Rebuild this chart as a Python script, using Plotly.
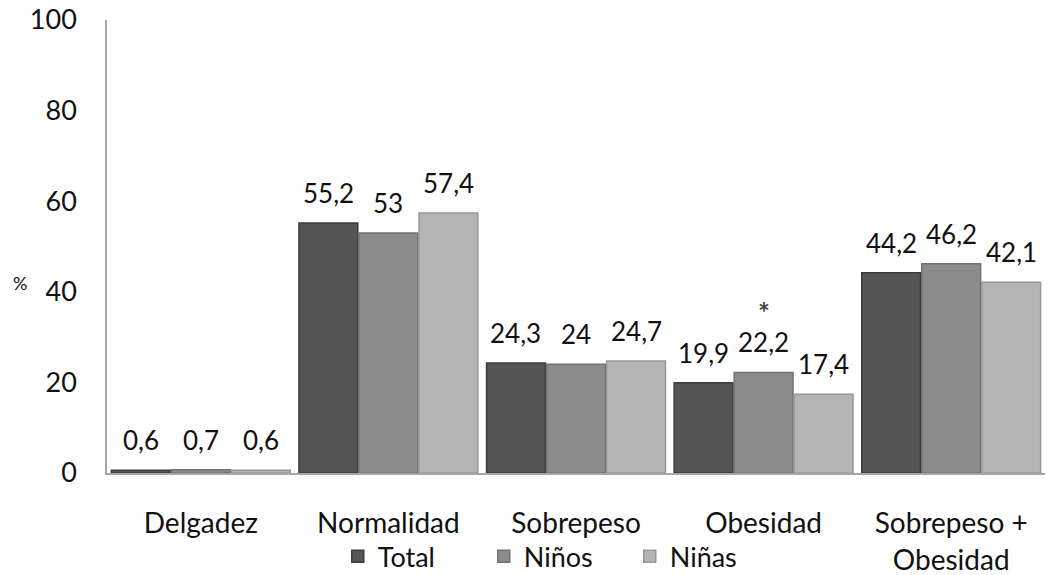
import plotly.graph_objects as go

categories = ["Delgadez", "Normalidad", "Sobrepeso", "Obesidad", "Sobrepeso +<br>Obesidad"]
total = [0.6, 55.2, 24.3, 19.9, 44.2]
ninos = [0.7, 53.0, 24.0, 22.2, 46.2]
ninas = [0.6, 57.4, 24.7, 17.4, 42.1]
series_names = ["Total", "Niños", "Niñas"]
y_ticks = [0, 20, 40, 60, 80, 100]

def fmt(v):
    return f"{v:g}".replace(".", ",")

colors = ["#555555", "#8c8c8c", "#b4b4b4"]
edges = ["#3c3c3c", "#727272", "#989898"]
FONT = "Lato, Open Sans, sans-serif"

W, H = 1047, 575
ML, MR, MT, MB = 107, 2, 20, 102
BARGAP, GROUPGAP = 0.04, 0.02

fig = go.Figure()
series = [total, ninos, ninas]
for name, vals, c, e in zip(series_names, series, colors, edges):
    fig.add_trace(go.Bar(
        x=categories, y=vals, name=name,
        marker=dict(color=c, line=dict(color=e, width=1.5)),
        cliponaxis=False,
    ))

# value labels, placed over each grouped bar
cat_px = (W - ML - MR) / len(categories)
pitch = cat_px * (1 - BARGAP) / len(series)
for i, vals in enumerate(series):
    for cat, v in zip(categories, vals):
        fig.add_annotation(x=cat, y=v, text=fmt(v), showarrow=False,
                           xshift=(i - 1) * pitch, yanchor="bottom", yshift=12,
                           font=dict(size=26, color="#111111", family=FONT))

fig.add_annotation(x=categories[3], y=ninos[3], text="<b>*</b>", showarrow=False,
                   yshift=60, font=dict(size=28, color="#444444", family=FONT))

fig.add_annotation(xref="paper", yref="paper", x=-0.093, y=0.42, text="%",
                   showarrow=False, xanchor="center",
                   font=dict(size=18, color="#111111", family=FONT))

fig.update_layout(
    width=W, height=H,
    margin=dict(l=ML, r=MR, t=MT, b=MB, autoexpand=False),
    paper_bgcolor="white", plot_bgcolor="white",
    barmode="group", bargap=BARGAP, bargroupgap=GROUPGAP,
    font=dict(family=FONT, color="#111111"),
    showlegend=True,
    legend=dict(orientation="h", x=0.246, xanchor="left", y=-0.185, yanchor="middle",
                font=dict(size=27, family=FONT), itemwidth=30, traceorder="normal",
                entrywidth=101, entrywidthmode="pixels",
                bgcolor="rgba(0,0,0,0)"),
)
fig.update_yaxes(range=[0, 100], tickvals=y_ticks, showgrid=False, zeroline=False,
                 showline=True, linecolor="#a6a6a6", linewidth=1.5, automargin=False,
                 ticklabeloverflow="allow",
                 tickfont=dict(size=27, family=FONT), ticks="", ticklabelstandoff=23)
fig.update_xaxes(showgrid=False, showline=True, linecolor="#a6a6a6", linewidth=1.5,
                 automargin=False, ticklabeloverflow="allow",
                 tickfont=dict(size=28, family=FONT), ticks="", ticklabelstandoff=25)

# remove the default 8px page margin so the figure fills the window exactly
fig.write_html("out.html", config={"displayModeBar": False},
               post_script="document.body.style.margin='0px';")
